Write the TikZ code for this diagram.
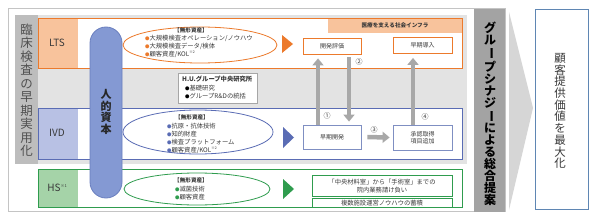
\documentclass[tikz,border=0pt]{standalone}
\usepackage{fontspec}
\setmainfont{Noto Sans CJK JP}
\usetikzlibrary{shapes.geometric,arrows.meta}
\definecolor{org}{HTML}{EC7A2C}
\definecolor{orgl}{HTML}{F8C39C}
\definecolor{blu}{HTML}{5A6CB4}
\definecolor{blul}{HTML}{B8C1E4}
\definecolor{blubox}{HTML}{7F8FC2}
\definecolor{pillc}{HTML}{8499D3}
\definecolor{pillb}{HTML}{6A7FBF}
\definecolor{grn}{HTML}{2F9C4E}
\definecolor{grnl}{HTML}{A5D3A8}
\definecolor{bgg}{HTML}{E3E3E3}
\definecolor{strip}{HTML}{BDBDBD}
\definecolor{colc}{HTML}{A3A3A3}
\definecolor{arr}{HTML}{A8A8A8}
\definecolor{framec}{HTML}{C4C4C4}
\definecolor{chev}{HTML}{D6D6D6}
\definecolor{rbox}{HTML}{5F86B3}
\definecolor{txt}{HTML}{3A3A3A}
\definecolor{leftc}{HTML}{505050}
\newcommand\vb{\rotatebox[origin=c]{-90}{ー}}
\newcommand\bu[1]{\textcolor{#1}{\scalebox{0.7}{●}}}
\tikzset{
  lbl/.style={font=\fontsize{10}{10}\selectfont},
  ell/.style={ellipse, line width=0.8, inner sep=0},
  etitle/.style={font=\bfseries\fontsize{5.6}{6}\selectfont},
  elist/.style={align=left, font=\fontsize{6.3}{8}\selectfont, anchor=west},
  sbox/.style={draw, fill=white, line width=0.8, minimum width=58, minimum height=16, inner sep=0, align=center, font=\fontsize{6}{7.5}\selectfont},
  garrow/.style={draw=arr, line width=4.5, -{Triangle[width=11pt,length=7pt]}},
  num/.style={font=\fontsize{7}{7}\selectfont},
  vtxt/.style={align=center},
  bigbox/.style={line width=1.3, minimum width=424, anchor=north west, inner sep=0}
}
\begin{document}
\begin{tikzpicture}[x=1pt,y=-1pt, every node/.style={inner sep=0, text=txt}]
\useasboundingbox (0,0) rectangle (593,214);
\fill[white] (0,0) rectangle (593,214);
% outer frame and backgrounds
\draw[framec, line width=1.8] (8.5,8.5) rectangle (505,211.5);
\fill[bgg] (15,15) rectangle (467,164);
\fill[strip] (15,15) rectangle (38,164);
\node (lefttxt) [vtxt, text=leftc, font=\fontsize{12.5}{13.5}\selectfont] at (26.5,90) {臨\\床\\検\\査\\の\\早\\期\\実\\用\\化};
% LTS
\fill[white] (38,18) rectangle (462,68);
\fill[orgl] (38,18) rectangle (78,68);
\fill[orgl] (328,18) rectangle (462,33);
\node (lts) [bigbox, draw=org, minimum height=50] at (38,18) {};
\node (ltsl) [lbl] at (57,43) {LTS};
\node (band) [font=\bfseries\fontsize{5.6}{6}\selectfont] at (395,25.5) {医療を支える社会インフラ};
% IVD
\fill[white] (38,108) rectangle (462,159);
\fill[blul] (38,108) rectangle (78,159);
\node (ivd) [bigbox, draw=blu, minimum height=51] at (38,108) {};
\node (ivdl) [lbl] at (57,133) {IVD};
% HS
\fill[white] (38,169) rectangle (462,207);
\fill[grnl] (38,169) rectangle (78,207);
\node (hs) [bigbox, draw=grn, minimum height=38] at (38,169) {};
\node (hsl) [lbl] at (57,188) {HS\raisebox{4pt}{\fontsize{4}{4}\selectfont ※1}};
% human capital pill
\node (pill) [draw=pillb, fill=pillc, line width=0.8, rounded corners=16, minimum width=32, minimum height=171] at (106,112.5) {};
\node (jt) [vtxt, text=black!85, font=\bfseries\fontsize{11}{11.5}\selectfont] at (106,112) {人\\的\\資\\本};
% H.U. box
\node (hu) [draw=gray!70, fill=white, line width=0.6, minimum width=79, minimum height=30, anchor=north west] at (178,73) {};
\node (hut) [anchor=west, font=\bfseries\fontsize{6.3}{7}\selectfont] at (182,79.5) {H.U.グループ中央研究所};
\node (hul) [elist] at (185,92.5) {\bu{black}基礎研究\\\bu{black}グループR\&Dの統括};
% ellipses
\node (le) [ell, draw=org, minimum width=154, minimum height=36] at (200,45) {};
\node (let) [etitle] at (191,30.5) {【無形資産】};
\node (lel) [elist] at (145,46) {\bu{org}大規模検査オペレーション/ノウハウ\\\bu{org}大規模検査データ/検体\\\bu{org}顧客資産/KOL\raisebox{2.5pt}{\fontsize{3.5}{4}\selectfont ※2}};
\node (ie) [ell, draw=blu, minimum width=150, minimum height=44] at (198,132) {};
\node (iet) [etitle] at (192,117.5) {【無形資産】};
\node (iel) [elist] at (167,138) {\bu{blu}抗原・抗体技術\\\bu{blu}知的財産\\\bu{blu}検査プラットフォーム\\\bu{blu}顧客資産/KOL\raisebox{2.5pt}{\fontsize{3.5}{4}\selectfont ※2}};
\node (he) [ell, draw=grn, minimum width=146, minimum height=32] at (197,189) {};
\node (het) [etitle] at (191,180.5) {【無形資産】};
\node (hel) [elist] at (175,193) {\bu{grn}滅菌技術\\\bu{grn}顧客資産};
% triangles
\fill[org] (282,35) -- (293,44) -- (282,53) -- cycle;
\fill[blu] (283,127) -- (294,137.5) -- (283,148) -- cycle;
\fill[grn] (283,179) -- (294,189) -- (283,199) -- cycle;
% process boxes
\node (kh) [sbox, draw=org] at (332,46) {開発評価};
\node (sd) [sbox, draw=org, minimum width=59] at (422.5,45.5) {早期導入};
\node (sk) [sbox, draw=blubox, minimum height=24] at (332,137) {早期開発};
\node (sn) [sbox, draw=blubox, minimum width=59, minimum height=25] at (422.5,137.5) {承認取得\\項目追加};
% arrows
\coordinate (c1) at (318,0);
\coordinate (c2) at (349,0);
\coordinate (c4) at (413,0);
\draw[garrow, shorten >=4] (c1 |- sk.north) -- (c1 |- kh.south);
\draw[garrow, shorten <=3, shorten >=3] (c2 |- kh.south) -- (c2 |- sk.north);
\draw[garrow, shorten <=6, shorten >=3] (sk.east) -- (sn.west);
\draw[garrow, shorten >=4] (c4 |- sn.north) -- (c4 |- sd.south);
\node (n1) [num] at (327,116) {①};
\node (n2) [num] at (359,62) {②};
\node (n3) [num] at (374,130) {③};
\node (n4) [num] at (425,117) {④};
% HS boxes
\node (hb1) [draw=grn, line width=0.8, fill=white, minimum width=140, minimum height=21, align=center, font=\fontsize{6.3}{8}\selectfont] at (382,186) {「中央材料室」から「手術室」までの\\院内業務請け負い};
\node (hb2) [draw=grn, line width=0.8, fill=white, minimum width=140, minimum height=8.5, font=\fontsize{6.3}{7}\selectfont] at (382,203) {複数施設運営ノウハウの蓄積};
% synergy column
\fill[colc] (474,9) rectangle (505,212);
\node (syn) [vtxt, text=black, font=\bfseries\fontsize{12}{12}\selectfont] at (490,114) {グ\\ル\\\vb\\プ\\シ\\ナ\\ジ\\\vb\\に\\よ\\る\\総\\合\\提\\案};
% chevron
\fill[chev] (509,12) -- (533,108) -- (509,210) -- cycle;
% right box
\node (rb) [draw=rbox, line width=0.9, fill=white, minimum width=53, minimum height=200, anchor=north west] at (535,9) {};
\node (rbt) [vtxt, font=\fontsize{11.5}{11.7}\selectfont] at (560,111) {顧\\客\\提\\供\\価\\値\\を\\最\\大\\化};
\end{tikzpicture}
\end{document}
